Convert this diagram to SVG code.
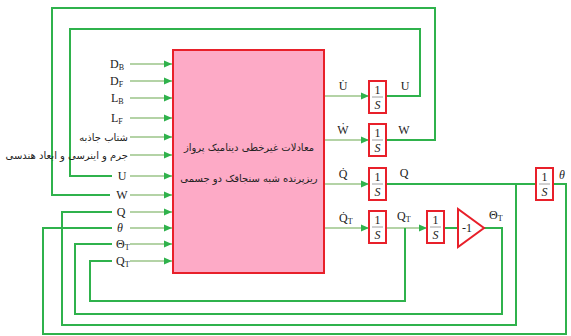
<svg xmlns="http://www.w3.org/2000/svg" width="571" height="336" viewBox="0 0 571 336">
<style>
.fb{fill:none;stroke:#2fb24c;stroke-width:2}
.ar{fill:none;stroke:#6aa84f;stroke-width:1.2;marker-end:url(#ah)}
.t{font-family:"Liberation Serif","DejaVu Serif",serif;font-size:12px;fill:#222}
.ts{font-family:"Liberation Serif",serif;font-size:8px;fill:#222}
.fa{font-family:"DejaVu Sans","Noto Sans",sans-serif;font-size:10px;fill:#222}
.box{fill:#fdaac6;stroke:#e8202a;stroke-width:2}
.int{fill:#fff;stroke:#e8202a;stroke-width:2}
.fr{stroke:#888;stroke-width:0.8}
</style>
<defs>
<marker id="ah" markerUnits="userSpaceOnUse" markerWidth="9" markerHeight="8" refX="8" refY="4" orient="auto">
<path d="M0,0.5 L8,4 L0,7.5 z" fill="#2fb24c"/>
</marker>
<g id="intg">
<rect class="int" x="0" y="0" width="17" height="32"/>
<text class="t" x="8.5" y="13" text-anchor="middle" font-size="13">1</text>
<line class="fr" x1="3" y1="16" x2="14" y2="16"/>
<text class="t" x="8.5" y="28" text-anchor="middle" font-size="13" font-style="italic">S</text>
</g>
</defs>

<g id="connectors">
<line class="ar" x1="130" y1="64" x2="172" y2="64"/>
<line class="ar" x1="130" y1="81" x2="172" y2="81"/>
<line class="ar" x1="130" y1="98" x2="172" y2="98"/>
<line class="ar" x1="130" y1="118" x2="172" y2="118"/>
<line class="ar" x1="130" y1="137" x2="172" y2="137"/>
<line class="ar" x1="130" y1="155" x2="172" y2="155"/>
<line class="ar" x1="130" y1="176" x2="172" y2="176"/>
<line class="ar" x1="130" y1="195" x2="172" y2="195"/>
<line class="ar" x1="130" y1="212" x2="172" y2="212"/>
<line class="ar" x1="130" y1="228" x2="172" y2="228"/>
<line class="ar" x1="130" y1="244" x2="172" y2="244"/>
<line class="ar" x1="130" y1="261" x2="172" y2="261"/>
<line class="ar" x1="324" y1="96" x2="369" y2="96"/>
<line class="ar" x1="324" y1="140" x2="369" y2="140"/>
<line class="ar" x1="324" y1="184" x2="369" y2="184"/>
<line class="ar" x1="324" y1="228" x2="369" y2="228"/>
<line class="ar" x1="386" y1="228" x2="427" y2="228"/>
<line class="fb" x1="444" y1="228" x2="457" y2="228"/>
<polyline class="fb" points="386,96 420,96 420,29 70,29 70,176 112,176"/>
<polyline class="fb" points="386,140 435,140 435,8 52,8 52,195 110,195"/>
<polyline class="fb" points="386,184 536,184"/>
<polyline class="fb" points="516,184 516,325 62,325 62,212 112,212"/>
<polyline class="fb" points="552,184 566,184 566,334 43,334 43,228 112,228"/>
<polyline class="fb" points="484,228 502,228 502,314 75,314 75,244 112,244"/>
<polyline class="fb" points="405,228 405,301 90,301 90,261 112,261"/>
</g>

<g id="main">
<rect class="box" x="173" y="50" width="151" height="223"/>
<text class="fa" x="249" y="151" text-anchor="middle" direction="rtl" font-size="12.7">معادلات غیرخطی دینامیک پرواز</text>
<text class="fa" x="249" y="182" text-anchor="middle" direction="rtl" font-size="12.5">ریزپرنده شبه سنجاقک دو جسمی</text>
</g>

<g id="inputs">
<text class="t" x="110" y="68">D<tspan class="ts" dy="2">B</tspan></text>
<text class="t" x="110" y="85">D<tspan class="ts" dy="2">F</tspan></text>
<text class="t" x="111" y="102">L<tspan class="ts" dy="2">B</tspan></text>
<text class="t" x="111" y="122">L<tspan class="ts" dy="2">F</tspan></text>
<text class="fa" x="128" y="141" text-anchor="start" direction="rtl">شتاب جاذبه</text>
<text class="fa" x="128" y="159" text-anchor="start" direction="rtl" font-size="9.6">جرم و اینرسی و ابعاد هندسی</text>
<text class="t" x="122" y="180" text-anchor="middle">U</text>
<text class="t" x="122" y="199" text-anchor="middle">W</text>
<text class="t" x="121" y="216" text-anchor="middle">Q</text>
<text class="t" x="120" y="232" text-anchor="middle" font-style="italic">θ</text>
<text class="t" x="116" y="248">Θ<tspan class="ts" dy="2">T</tspan></text>
<text class="t" x="116" y="265">Q<tspan class="ts" dy="2">T</tspan></text>
</g>

<g id="outlabels">
<text class="t" x="343" y="90" text-anchor="middle">U̇</text>
<text class="t" x="343" y="134" text-anchor="middle">Ẇ</text>
<text class="t" x="343" y="178" text-anchor="middle">Q̇</text>
<text class="t" x="339" y="222">Q̇<tspan class="ts" dy="2">T</tspan></text>
<text class="t" x="405" y="90" text-anchor="middle">U</text>
<text class="t" x="404" y="134" text-anchor="middle">W</text>
<text class="t" x="404" y="177" text-anchor="middle">Q</text>
<text class="t" x="397" y="220">Q<tspan class="ts" dy="2">T</tspan></text>
<text class="t" x="489" y="219">Θ<tspan class="ts" dy="2">T</tspan></text>
<text class="t" x="562" y="179" text-anchor="middle" font-style="italic">θ</text>
</g>

<g id="int_u"><use href="#intg" x="369" y="81"/></g>
<g id="int_w"><use href="#intg" x="369" y="124"/></g>
<g id="int_q"><use href="#intg" x="369" y="168"/></g>
<g id="int_qt"><use href="#intg" x="369" y="211"/></g>
<g id="int_qt2"><use href="#intg" x="427" y="211"/></g>
<g id="int_theta"><use href="#intg" x="536" y="168"/></g>
<g id="gain">
<polygon points="458,209 458,247 484,228" fill="#fff" stroke="#e8202a" stroke-width="2"/>
<text class="t" x="467" y="232" text-anchor="middle" font-size="13">-1</text>
</g>
</svg>
